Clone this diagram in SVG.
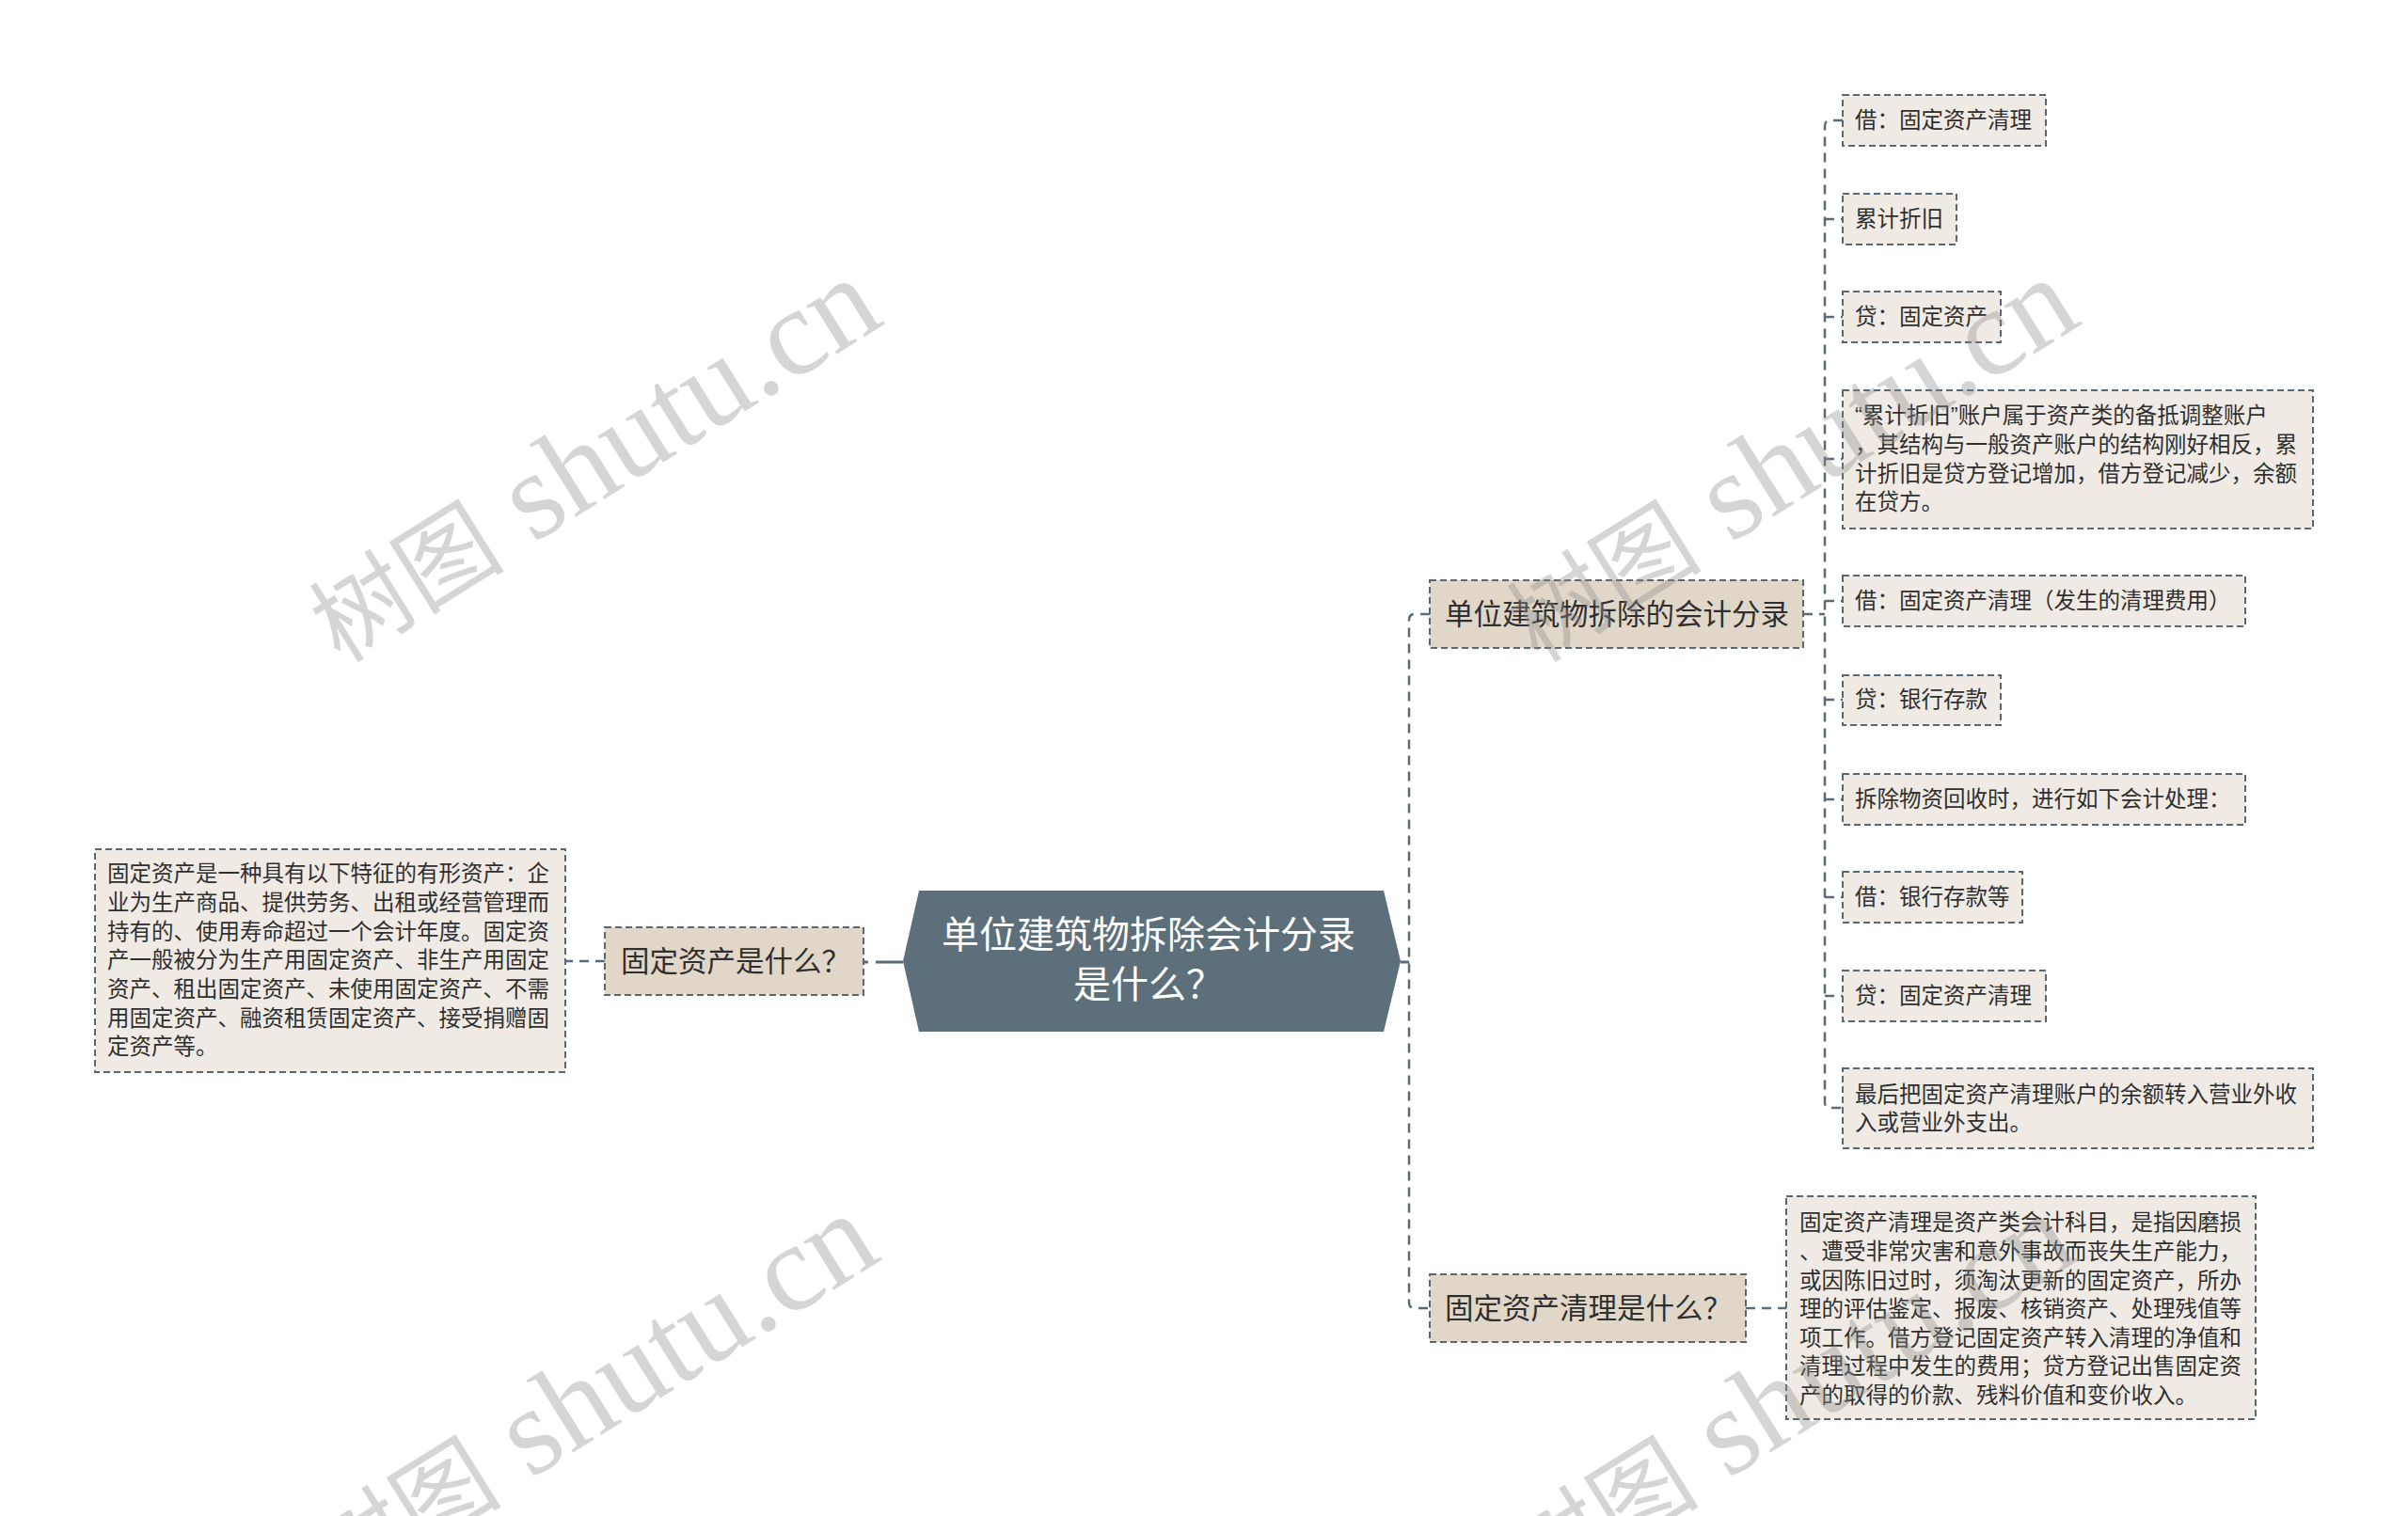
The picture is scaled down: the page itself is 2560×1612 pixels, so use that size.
<svg xmlns="http://www.w3.org/2000/svg" width="2560" height="1612" viewBox="0 0 2560 1612">
<style>
.t{font-family:"Liberation Sans","Noto Sans CJK SC",sans-serif;fill:#2f2f2f}
.leaf rect{fill:#efebe4;stroke:#5b6770;stroke-width:2;stroke-dasharray:7 4}
.lv2 rect{fill:#e1d7c8;stroke:#5b6770;stroke-width:2;stroke-dasharray:7 4}
.leaf text{font-size:23.5px}
.lv2 text{font-size:30.5px}
.conn path{fill:none;stroke:#5b6b76;stroke-width:2.5;stroke-dasharray:10 7}
.conn path.solid{stroke-dasharray:none;stroke-width:3}
.wm{font-family:"Liberation Serif","Noto Sans CJK SC",serif;font-size:132px;fill:#8a8a8a;fill-opacity:0.36}
.wm .cj{font-size:104px}
</style>
<rect width="2560" height="1612" fill="#ffffff"/>
<g id="connectors" class="conn">
  <path d="M960 1023 H918" style="stroke-dasharray:29 8;stroke-width:3"/>
  <path d="M643 1022 H601"/>
  <path class="solid" d="M1489 1023 H1498"/>
  <path d="M1520 653 H1504 Q1498 653 1498 659 V1385 Q1498 1391 1504 1391 H1520"/>
  <path d="M1917 653 H1940"/>
  <path d="M1959 128 H1946 Q1940 128 1940 134 V1172 Q1940 1178 1946 1178 H1959"/>
  <path d="M1940 233 H1959 M1940 337 H1959 M1940 488 H1959 M1940 639 H1959 M1940 744 H1959 M1940 850 H1959 M1940 954 H1959 M1940 1059 H1959"/>
  <path d="M1856 1391 H1899"/>
</g>
<g id="center">
  <polygon points="977,947 1471,947 1489,1022 1471,1097 977,1097 960,1022" fill="#5c6f7b"/>
  <text class="t" x="1221" y="1008" font-size="40" text-anchor="middle" style="fill:#ffffff">单位建筑物拆除会计分录</text>
  <text class="t" x="1221" y="1061" font-size="40" text-anchor="middle" style="fill:#ffffff">是什么？</text>
</g>
<g id="n-gdzc" class="lv2">
  <rect x="643" y="986" width="275" height="72"/>
  <text class="t" x="660" y="1033">固定资产是什么？</text>
</g>
<g id="n-gdzc-desc" class="leaf">
  <rect x="101" y="903" width="500" height="237"/>
  <text class="t" x="114" y="937">固定资产是一种具有以下特征的有形资产：企</text>
  <text class="t" x="114" y="968">业为生产商品、提供劳务、出租或经营管理而</text>
  <text class="t" x="114" y="999">持有的、使用寿命超过一个会计年度。固定资</text>
  <text class="t" x="114" y="1029">产一般被分为生产用固定资产、非生产用固定</text>
  <text class="t" x="114" y="1060">资产、租出固定资产、未使用固定资产、不需</text>
  <text class="t" x="114" y="1091">用固定资产、融资租赁固定资产、接受捐赠固</text>
  <text class="t" x="114" y="1121">定资产等。</text>
</g>
<g id="n-fl" class="lv2">
  <rect x="1520" y="617" width="397" height="72"/>
  <text class="t" x="1536" y="664">单位建筑物拆除的会计分录</text>
</g>
<g id="n-ql" class="lv2">
  <rect x="1520" y="1355" width="336" height="72"/>
  <text class="t" x="1536" y="1402">固定资产清理是什么？</text>
</g>
<g id="n-ql-desc" class="leaf">
  <rect x="1899" y="1272" width="499" height="237"/>
  <text class="t" x="1913" y="1308">固定资产清理是资产类会计科目，是指因磨损</text>
  <text class="t" x="1913" y="1339">、遭受非常灾害和意外事故而丧失生产能力，</text>
  <text class="t" x="1913" y="1370">或因陈旧过时，须淘汰更新的固定资产，所办</text>
  <text class="t" x="1913" y="1400">理的评估鉴定、报废、核销资产、处理残值等</text>
  <text class="t" x="1913" y="1431">项工作。借方登记固定资产转入清理的净值和</text>
  <text class="t" x="1913" y="1461">清理过程中发生的费用；贷方登记出售固定资</text>
  <text class="t" x="1913" y="1492">产的取得的价款、残料价值和变价收入。</text>
</g>
<g id="l1" class="leaf"><rect x="1959" y="101" width="216" height="54"/><text class="t" x="1972" y="136">借：固定资产清理</text></g>
<g id="l2" class="leaf"><rect x="1959" y="206" width="121" height="54"/><text class="t" x="1972" y="241">累计折旧</text></g>
<g id="l3" class="leaf"><rect x="1959" y="310" width="168" height="54"/><text class="t" x="1972" y="345">贷：固定资产</text></g>
<g id="l4" class="leaf">
  <rect x="1959" y="415" width="500" height="147"/>
  <text class="t" x="1972" y="450">“累计折旧”账户属于资产类的备抵调整账户</text>
  <text class="t" x="1972" y="481">，其结构与一般资产账户的结构刚好相反，累</text>
  <text class="t" x="1972" y="512">计折旧是贷方登记增加，借方登记减少，余额</text>
  <text class="t" x="1972" y="542">在贷方。</text>
</g>
<g id="l5" class="leaf"><rect x="1959" y="612" width="428" height="54"/><text class="t" x="1972" y="647">借：固定资产清理（发生的清理费用）</text></g>
<g id="l6" class="leaf"><rect x="1959" y="718" width="168" height="53"/><text class="t" x="1972" y="752">贷：银行存款</text></g>
<g id="l7" class="leaf"><rect x="1959" y="823" width="428" height="54"/><text class="t" x="1972" y="858">拆除物资回收时，进行如下会计处理：</text></g>
<g id="l8" class="leaf"><rect x="1959" y="927" width="191" height="54"/><text class="t" x="1972" y="962">借：银行存款等</text></g>
<g id="l9" class="leaf"><rect x="1959" y="1032" width="216" height="54"/><text class="t" x="1972" y="1067">贷：固定资产清理</text></g>
<g id="l10" class="leaf">
  <rect x="1959" y="1136" width="500" height="85"/>
  <text class="t" x="1972" y="1172">最后把固定资产清理账户的余额转入营业外收</text>
  <text class="t" x="1972" y="1202">入或营业外支出。</text>
</g>
<g id="watermarks">
  <text class="wm" transform="translate(362 706) rotate(-32)"><tspan class="cj">树图</tspan> shutu.cn</text>
  <text class="wm" transform="translate(359 1701) rotate(-32)"><tspan class="cj">树图</tspan> shutu.cn</text>
  <text class="wm" transform="translate(1635 706) rotate(-32)"><tspan class="cj">树图</tspan> shutu.cn</text>
  <text class="wm" transform="translate(1632 1701) rotate(-32)"><tspan class="cj">树图</tspan> shutu.cn</text>
</g>
</svg>
